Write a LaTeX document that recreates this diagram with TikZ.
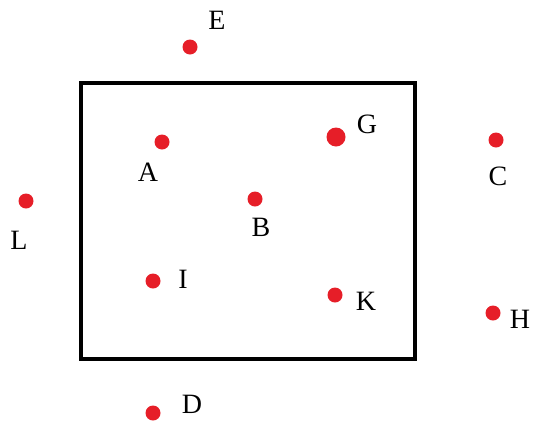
\documentclass[tikz,border=0pt]{standalone}
\usepackage{fontspec}
\setmainfont{Liberation Serif}
\definecolor{dotred}{RGB}{230,30,40}
\begin{document}
\begin{tikzpicture}[x=1pt,y=-1pt,
  pt/.style={circle,fill=dotred,inner sep=0pt,minimum size=15pt},
  bigpt/.style={circle,fill=dotred,inner sep=0pt,minimum size=19pt},
  lbl/.style={inner sep=0pt,font=\fontsize{28}{28}\selectfont}]
\useasboundingbox (0,0) rectangle (534,426);
\draw[line width=3.5pt] (81,83) rectangle (415,359);
\node[pt] (E) at (190,47) {};
\node[lbl] (Elbl) at (217,20) {E};
\node[pt] (A) at (162,142) {};
\node[lbl] (Albl) at (148,172) {A};
\node[bigpt] (G) at (336,137) {};
\node[lbl] (Glbl) at (367,124) {G};
\node[pt] (C) at (496,140) {};
\node[lbl] (Clbl) at (498,176) {C};
\node[pt] (L) at (26,201) {};
\node[lbl] (Llbl) at (19,240) {L};
\node[pt] (B) at (255,199) {};
\node[lbl] (Blbl) at (261,227) {B};
\node[pt] (I) at (153,281) {};
\node[lbl] (Ilbl) at (183,279) {I};
\node[pt] (K) at (335,295) {};
\node[lbl] (Klbl) at (366,301) {K};
\node[pt] (H) at (493,313) {};
\node[lbl] (Hlbl) at (520,319) {H};
\node[pt] (D) at (153,413) {};
\node[lbl] (Dlbl) at (192,404) {D};
\end{tikzpicture}
\end{document}
